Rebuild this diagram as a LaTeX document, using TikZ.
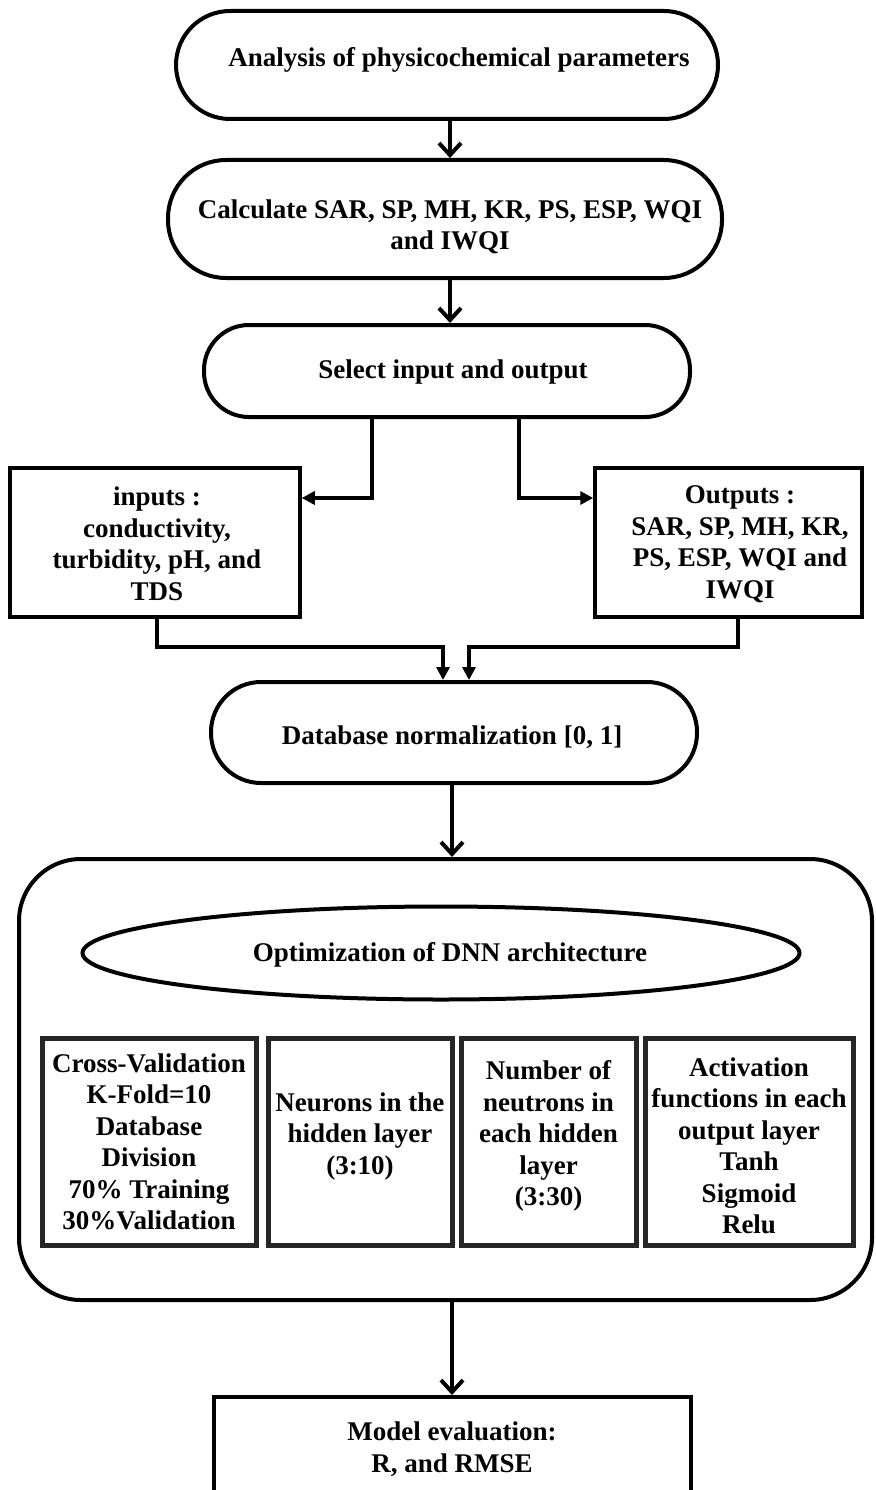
\documentclass[tikz,border=0pt]{standalone}
\usepackage{fontspec}
\setmainfont{Liberation Serif}
\usetikzlibrary{arrows.meta,shapes.geometric}
\begin{document}
\begin{tikzpicture}[x=1pt,y=-1pt,
  every node/.style={font=\fontsize{27}{31.5}\selectfont\bfseries, align=center, inner sep=0pt},
  stadium/.style={draw, line width=4pt, rectangle, rounded corners=#1},
  plainbox/.style={draw, line width=3.5pt, rectangle},
  innerbox/.style={draw=black!85, line width=5pt, rectangle},
  flow/.style={line width=4pt, -{Straight Barb[length=12pt,width=22pt]}},
  tri/.style={line width=4pt, -{Triangle[length=13pt,width=13pt]}},
  link/.style={line width=4pt}
]
\path[use as bounding box] (0,0) rectangle (875,1490);
\clip (0,0) rectangle (875,1490);

% stadium nodes
\node[stadium=54pt, minimum width=542pt, minimum height=108pt] (s1) at (447,65) {};
\node at (459,60) {Analysis of physicochemical parameters};

\node[stadium=58pt, minimum width=554pt, minimum height=118pt] (s2) at (445,219) {};
\node at (450,227) {Calculate SAR, SP, MH, KR, PS, ESP, WQI\\and IWQI};

\node[stadium=45pt, minimum width=486pt, minimum height=92pt] (s3) at (447,371) {};
\node at (453,372) {Select input and output};

\node[plainbox, minimum width=290pt, minimum height=149pt] (in) at (155,542.5) {};
\node at (157,544) {inputs :\\conductivity,\\turbidity, pH, and\\TDS};

\node[plainbox, minimum width=267pt, minimum height=149pt] (out) at (728.5,542.5) {};
\node at (740,544) {Outputs :\\SAR, SP, MH, KR,\\PS, ESP, WQI and\\IWQI};

\node[stadium=50pt, minimum width=486pt, minimum height=101pt] (s4) at (454,732.5) {};
\node at (452,737) {Database normalization [0, 1]};

% big rounded container
\node[draw, line width=4pt, rectangle, rounded corners=62pt, minimum width=853pt, minimum height=441pt] (big) at (445.5,1079.5) {};
\node[draw, line width=4pt, ellipse, minimum width=717pt, minimum height=93pt] (ell) at (441,953) {};
\node at (450,955) {Optimization of DNN architecture};

\node[innerbox, minimum width=214pt, minimum height=207pt] (b1) at (149,1141.5) {};
\node at (149,1142) {Cross-Validation\\K-Fold=10\\Database\\Division\\70\% Training\\30\%Validation};
\node[innerbox, minimum width=184pt, minimum height=207pt] (b2) at (360,1141.5) {};
\node at (360,1136) {Neurons in the\\hidden layer\\(3:10)};
\node[innerbox, minimum width=175pt, minimum height=207pt] (b3) at (548.5,1141.5) {};
\node at (548.5,1136) {Number of\\neutrons in\\each hidden\\layer\\(3:30)};
\node[innerbox, minimum width=208pt, minimum height=207pt] (b4) at (749,1141.5) {};
\node at (749,1146) {Activation\\functions in each\\output layer\\Tanh\\Sigmoid\\Relu};

\node[plainbox, line width=4pt, minimum width=477pt, minimum height=140pt] (eval) at (452.5,1467) {};
\node at (452,1449) {Model evaluation:\\R, and RMSE};

% connectors
\draw[flow] (s1.south -| 450,0) -- (s2.north -| 450,0);
\draw[flow] (s2.south -| 450,0) -- (s3.north -| 450,0);

\coordinate (bl) at (372,498);
\coordinate (br) at (519,498);
\draw[tri] (s3.south -| bl) -- (bl) -- (bl -| in.east);
\draw[tri] (s3.south -| br) -- (br) -- (br -| out.west);

\coordinate (ml) at (157,647);
\coordinate (ml2) at (443,647);
\coordinate (mr) at (738,647);
\coordinate (mr2) at (469,647);
\draw[tri] (in.south -| ml) -- (ml) -- (ml2) -- (s4.north -| ml2);
\draw[tri] (out.south -| mr) -- (mr) -- (mr2) -- (s4.north -| mr2);

\draw[flow] (s4.south -| 452,0) -- (big.north -| 452,0);
\draw[flow] (big.south -| 452,0) -- (eval.north -| 452,0);
\end{tikzpicture}
\end{document}
